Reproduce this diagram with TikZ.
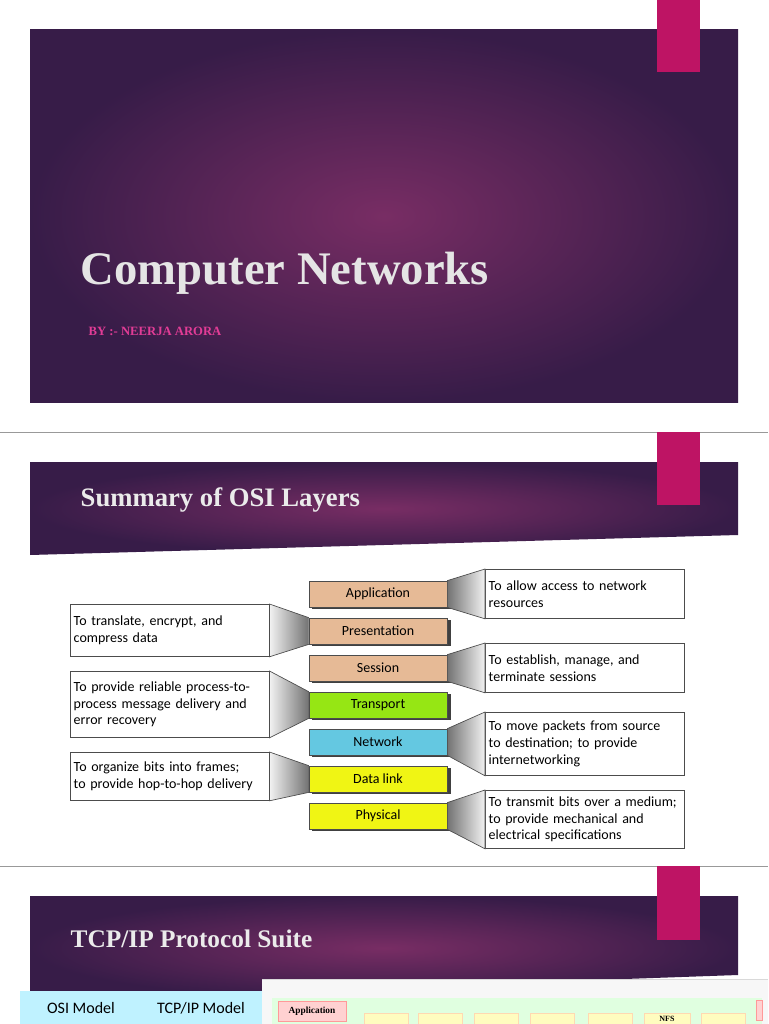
\documentclass[tikz,border=0pt]{standalone}
\usepackage{fontspec}
\setmainfont{Liberation Serif}
\newfontfamily\dsans{Carlito}
\definecolor{pdark}{RGB}{55,28,72}
\definecolor{plight}{RGB}{120,45,100}
\definecolor{pinkt}{RGB}{190,20,100}
\definecolor{tan}{RGB}{230,186,150}
\definecolor{lgreen}{RGB}{150,230,20}
\definecolor{lblue}{RGB}{100,200,225}
\definecolor{lyel}{RGB}{240,245,20}
\definecolor{bylabel}{RGB}{225,60,150}
\begin{document}
\begin{tikzpicture}[x=0.75pt,y=-0.75pt,
  layer/.style={draw=black!70,line width=0.6pt,minimum width=138*0.75pt,minimum height=26*0.75pt,inner sep=0,font=\dsans\fontsize{10.5}{12}\selectfont},
  desc/.style={draw=black!70,line width=0.6pt,align=left,text width=192*0.75pt,inner sep=2.5pt,font=\dsans\fontsize{10.5}{12.5}\selectfont,anchor=north west},
  tab/.style={fill=pinkt},
  bg/.style={inner color=plight,outer color=pdark}]
\useasboundingbox (0,0) rectangle (768,1024);
\fill[white] (0,0) rectangle (768,1024);
% slide 1
\shade[bg] (30,30) rectangle (738,402);
\fill[tab] (657,0) rectangle (700,72);
\node[anchor=west,text=white!90!black,font=\bfseries\fontsize{35}{40}\selectfont] (t1) at (76,273) {Computer Networks};
\node[anchor=west,text=bylabel,font=\bfseries\fontsize{9.5}{12}\selectfont] (by) at (84,331) {BY :- NEERJA ARORA};
\draw[black!40] (0,432) -- (768,432);
% slide 2
\shade[bg] (30,462) -- (738,462) -- (738,535) -- (30,555) -- cycle;
\fill[tab] (657,432) rectangle (700,505);
\node[anchor=west,text=white!92!black,font=\bfseries\fontsize{20}{24}\selectfont] (t2) at (76,500) {Summary of OSI Layers};
% layers
\foreach \n/\t/\c/\y in {app/Application/tan/594,pre/Presentation/tan/631,ses/Session/tan/668,tra/Transport/lgreen/705,net/Network/lblue/742,dl/Data link/lyel/779,phy/Physical/lyel/816}{
  \fill[black!75] (312,\y-11) rectangle (451,\y+15);
  \node[layer,fill=\c] (\n) at (378,\y) {\t};
}
% right descriptions
\node[desc,minimum height=49*0.75pt] (d1) at (485,569) {To allow access to network\\resources};
\node[desc,minimum height=49*0.75pt] (d3) at (485,643) {To establish, manage, and\\terminate sessions};
\node[desc,minimum height=63*0.75pt] (d5) at (485,712) {To move packets from source\\to destination; to provide\\internetworking};
\node[desc,minimum height=58*0.75pt] (d7) at (485,790) {To transmit bits over a medium;\\to provide mechanical and\\electrical specifications};
% left descriptions
\node[desc,minimum height=52*0.75pt] (d2) at (70,604) {To translate, encrypt, and\\compress data};
\node[desc,minimum height=66*0.75pt] (d4) at (70,671) {To provide reliable process-to-\\process message delivery and\\error recovery};
\node[desc,minimum height=48*0.75pt] (d6) at (70,752) {To organize bits into frames;\\to provide hop-to-hop delivery};
% connectors right
\foreach \l/\d in {app/d1,ses/d3,net/d5,phy/d7}{
  \shade[left color=black!55,right color=black!5,draw=black!70,line width=0.5pt] (\l.north east) -- (\d.north west) -- (\d.south west) -- (\l.south east) -- cycle;
}
\foreach \l/\d in {pre/d2,tra/d4,dl/d6}{
  \shade[right color=black!55,left color=black!5,draw=black!70,line width=0.5pt] (\d.north east) -- (\l.north west) -- (\l.south west) -- (\d.south east) -- cycle;
}
\draw[black!40] (0,866) -- (768,866);
% slide 3
\shade[bg] (30,896) -- (738,896) -- (738,975) -- (30,1000) -- cycle;
\fill[tab] (657,866) rectangle (700,940);
\node[anchor=west,text=white!92!black,font=\bfseries\fontsize{19}{24}\selectfont] (t3) at (66,939) {TCP/IP Protocol Suite};
\fill[blue!20!cyan!25] (20,991) rectangle (262,1024);
\node[font=\dsans\fontsize{12}{14}\selectfont] (osi) at (81,1008) {OSI Model};
\node[font=\dsans\fontsize{12}{14}\selectfont] (tcp) at (201,1008) {TCP/IP Model};
\fill[black!3] (262,979) rectangle (768,1024);
\draw[black!15] (262,979) -- (768,979);
\fill[green!12] (272,998) rectangle (762,1024);
\node[draw=red!40,fill=red!18,font=\bfseries\fontsize{7}{8}\selectfont,minimum width=68*0.75pt,minimum height=20*0.75pt,inner sep=0] (appl) at (312,1011) {Application};
\foreach \x in {364,418,474,530,588,701}{\fill[yellow!25,draw=orange!30] (\x,1013) rectangle (\x+44,1024);}
\fill[yellow!25,draw=orange!30] (644,1013) rectangle (690,1024);
\node[font=\bfseries\fontsize{6}{7}\selectfont,inner sep=1pt] (nfs) at (667,1019) {NFS};
\fill[red!18,draw=red!40] (756,1000) rectangle (762,1020);
\end{tikzpicture}
\end{document}
